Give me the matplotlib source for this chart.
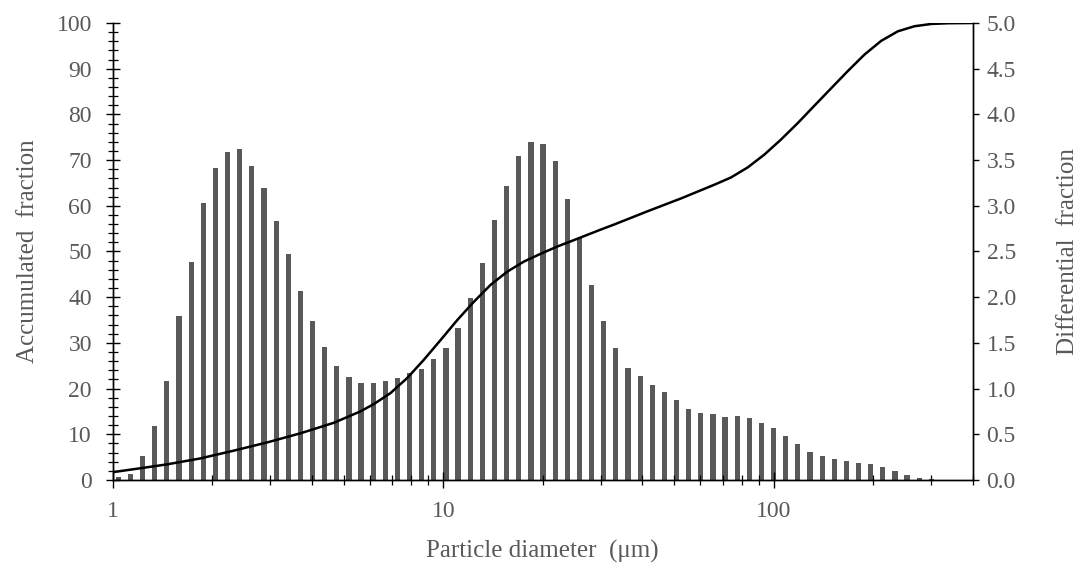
import numpy as np
import matplotlib
matplotlib.use("Agg")
import matplotlib.pyplot as plt
from matplotlib.ticker import LogLocator, FixedLocator, NullFormatter, FormatStrFormatter, MultipleLocator

# ---- data ----
diameter_um = [1.040, 1.132, 1.231, 1.340, 1.458, 1.587, 1.727, 1.879, 2.045, 2.226,
               2.422, 2.636, 2.868, 3.121, 3.396, 3.696, 4.022, 4.377, 4.763, 5.183,
               5.640, 6.138, 6.679, 7.268, 7.909, 8.607, 9.366, 10.19, 11.09, 12.07,
               13.13, 14.29, 15.55, 16.93, 18.42, 20.04, 21.81, 23.74, 25.83, 28.11,
               30.59, 33.29, 36.23, 39.42, 42.90, 46.69, 50.80, 55.29, 60.17, 65.47,
               71.25, 77.54, 84.38, 91.82, 99.92, 108.7, 118.3, 128.8, 140.1, 152.5,
               165.9, 180.6, 196.5, 213.8, 232.7, 253.2, 275.6, 299.9]
differential = [0.03, 0.07, 0.26, 0.59, 1.08, 1.79, 2.39, 3.03, 3.41, 3.59,
                3.62, 3.44, 3.20, 2.83, 2.47, 2.07, 1.74, 1.46, 1.25, 1.13,
                1.065, 1.065, 1.08, 1.12, 1.17, 1.21, 1.32, 1.44, 1.66, 1.99,
                2.37, 2.85, 3.22, 3.55, 3.70, 3.68, 3.49, 3.07, 2.65, 2.13,
                1.74, 1.44, 1.22, 1.14, 1.04, 0.96, 0.88, 0.78, 0.73, 0.72,
                0.69, 0.70, 0.68, 0.62, 0.57, 0.48, 0.39, 0.31, 0.26, 0.23,
                0.21, 0.19, 0.17, 0.14, 0.10, 0.05, 0.02, 0.01]

curve_d = [1.0, 1.21, 1.457, 1.839, 2.32, 2.929, 3.695, 4.662, 5.616, 6.163,
           6.923, 7.779, 8.736, 9.813, 11.03, 12.38, 13.91, 15.63, 17.55, 19.72,
           22.16, 24.88, 29.98, 32.89, 41.51, 52.37, 66.07, 74.24, 83.42, 93.65,
           105.2, 118.2, 132.7, 149.1, 167.6, 188.2, 211.4, 237.6, 266.8, 299.8,
           336.8, 400.0]
accumulated = [1.7, 2.55, 3.4, 4.7, 6.4, 8.2, 10.2, 12.5, 15.0, 16.6,
               19.0, 22.3, 26.3, 30.6, 35.0, 39.0, 42.7, 45.6, 47.8, 49.5,
               51.1, 52.5, 54.8, 55.9, 58.8, 61.6, 64.6, 66.2, 68.4, 71.2,
               74.5, 78.1, 81.9, 85.7, 89.5, 93.1, 96.1, 98.2, 99.3, 99.8,
               99.95, 100.0]

left_ticks = [0, 10, 20, 30, 40, 50, 60, 70, 80, 90, 100]
right_ticks = [0.0, 0.5, 1.0, 1.5, 2.0, 2.5, 3.0, 3.5, 4.0, 4.5, 5.0]
x_ticks = [1, 10, 100]
x_ticklabels = ["1", "10", "100"]

# ---- style ----
plt.rcParams['font.family'] = ['Liberation Serif', 'DejaVu Serif']
gray_txt = '#595959'
bar_col = '#595959'
fs = 17
fl = 18

fig = plt.figure(figsize=(10.82, 5.70), dpi=100)
ax = fig.add_axes([0.1042, 0.158, 0.7948, 0.8016])
ax2 = ax.twinx()

# bars on right axis (fixed pixel width on log axis)
d = np.asarray(diameter_um)
half = 10 ** (2.6 / 330.0)
ax2.bar(d / half, differential, width=d * half - d / half, align='edge',
        color=bar_col, edgecolor='none')

# cumulative curve on left axis
ax.plot(curve_d, accumulated, color='black', lw=1.8, solid_capstyle='round',
        solid_joinstyle='round')

ax.set_zorder(ax2.get_zorder() + 1)
ax.patch.set_visible(False)

for a in (ax, ax2):
    a.set_xscale('log')
    a.set_xlim(1, 400)
    a.spines['top'].set_visible(False)
    for s in a.spines.values():
        s.set_linewidth(1.0)

ax.set_ylim(0, 100)
ax2.set_ylim(0, 5.0)

ax.xaxis.set_major_locator(FixedLocator(x_ticks))
ax.set_xticklabels(x_ticklabels)
ax.xaxis.set_minor_locator(LogLocator(base=10, subs=np.arange(2, 10)))
ax.xaxis.set_minor_formatter(NullFormatter())
ax.tick_params(axis='x', which='major', direction='inout', length=11, width=1.0,
               labelsize=fs, labelcolor=gray_txt, pad=10)
ax.tick_params(axis='x', which='minor', direction='inout', length=7, width=0.9)

ax.set_yticks(left_ticks)
ax.yaxis.set_minor_locator(MultipleLocator(2))
ax.tick_params(axis='y', which='major', direction='inout', length=10, width=1.0,
               labelsize=fs, labelcolor=gray_txt, pad=10)
ax.tick_params(axis='y', which='minor', direction='inout', length=7, width=0.9)

ax2.set_yticks(right_ticks)
ax2.yaxis.set_major_formatter(FormatStrFormatter('%.1f'))
ax2.tick_params(axis='y', which='major', direction='out', length=4, width=1.0,
                labelsize=fs, labelcolor=gray_txt, pad=6)
ax2.tick_params(axis='x', which='both', bottom=False, labelbottom=False)

ax.set_xlabel('Particle diameter  (μm)', fontsize=fl, color=gray_txt, va='center')
ax.xaxis.set_label_coords(0.5, -0.1575)
ax.set_ylabel('Accumulated  fraction', fontsize=fl, color=gray_txt, va='center')
ax.yaxis.set_label_coords(-0.0985, 0.5)
ax2.set_ylabel('Differential  fraction', fontsize=fl, color=gray_txt, va='center',
               rotation=90)
ax2.yaxis.set_label_coords(1.1108, 0.5)

fig.savefig('out.png', dpi=100)
